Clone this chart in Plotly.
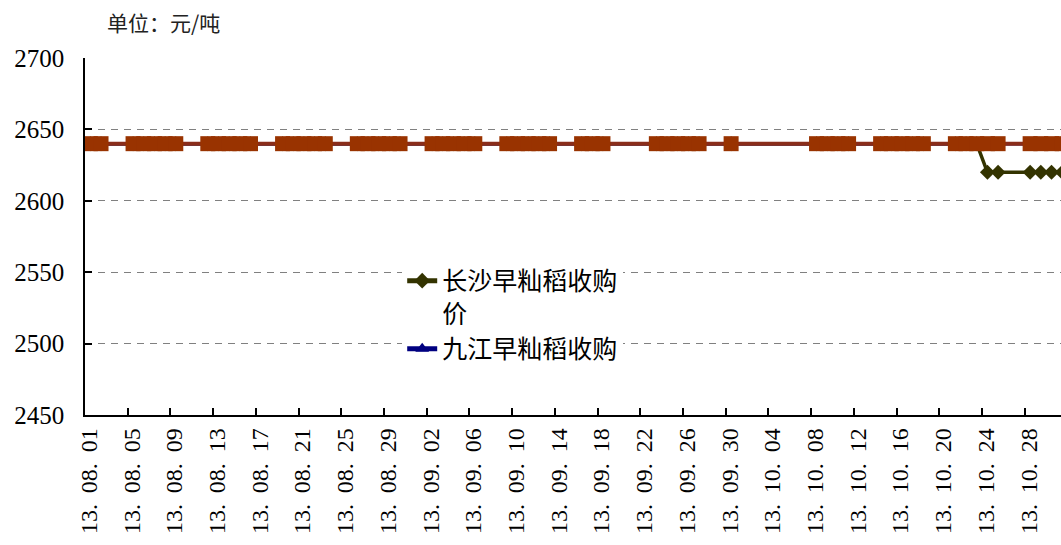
import pandas as pd
import plotly.graph_objects as go

# Trading days, Aug-Oct 2013 (weekends, Mid-Autumn and National Day holidays closed)
trade_dates = [
    "2013-08-01", "2013-08-02",
    "2013-08-05", "2013-08-06", "2013-08-07", "2013-08-08", "2013-08-09",
    "2013-08-12", "2013-08-13", "2013-08-14", "2013-08-15", "2013-08-16",
    "2013-08-19", "2013-08-20", "2013-08-21", "2013-08-22", "2013-08-23",
    "2013-08-26", "2013-08-27", "2013-08-28", "2013-08-29", "2013-08-30",
    "2013-09-02", "2013-09-03", "2013-09-04", "2013-09-05", "2013-09-06",
    "2013-09-09", "2013-09-10", "2013-09-11", "2013-09-12", "2013-09-13",
    "2013-09-16", "2013-09-17", "2013-09-18",
    "2013-09-23", "2013-09-24", "2013-09-25", "2013-09-26", "2013-09-27",
    "2013-09-30",
    "2013-10-08", "2013-10-09", "2013-10-10", "2013-10-11",
    "2013-10-14", "2013-10-15", "2013-10-16", "2013-10-17", "2013-10-18",
    "2013-10-21", "2013-10-22", "2013-10-23", "2013-10-24", "2013-10-25",
    "2013-10-28", "2013-10-29", "2013-10-30", "2013-10-31",
]

# Purchase prices, yuan per tonne
changsha_price = [
    2640, 2640,
    2640, 2640, 2640, 2640, 2640,
    2640, 2640, 2640, 2640, 2640,
    2640, 2640, 2640, 2640, 2640,
    2640, 2640, 2640, 2640, 2640,
    2640, 2640, 2640, 2640, 2640,
    2640, 2640, 2640, 2640, 2640,
    2640, 2640, 2640,
    2640, 2640, 2640, 2640, 2640,
    2640,
    2640, 2640, 2640, 2640,
    2640, 2640, 2640, 2640, 2640,
    2640, 2640, 2640, 2620, 2620,
    2620, 2620, 2620, 2620,
]
jiujiang_price = [
    2640, 2640,
    2640, 2640, 2640, 2640, 2640,
    2640, 2640, 2640, 2640, 2640,
    2640, 2640, 2640, 2640, 2640,
    2640, 2640, 2640, 2640, 2640,
    2640, 2640, 2640, 2640, 2640,
    2640, 2640, 2640, 2640, 2640,
    2640, 2640, 2640,
    2640, 2640, 2640, 2640, 2640,
    2640,
    2640, 2640, 2640, 2640,
    2640, 2640, 2640, 2640, 2640,
    2640, 2640, 2640, 2640, 2640,
    2640, 2640, 2640, 2640,
]
third_price = [
    2640, 2640,
    2640, 2640, 2640, 2640, 2640,
    2640, 2640, 2640, 2640, 2640,
    2640, 2640, 2640, 2640, 2640,
    2640, 2640, 2640, 2640, 2640,
    2640, 2640, 2640, 2640, 2640,
    2640, 2640, 2640, 2640, 2640,
    2640, 2640, 2640,
    2640, 2640, 2640, 2640, 2640,
    2640,
    2640, 2640, 2640, 2640,
    2640, 2640, 2640, 2640, 2640,
    2640, 2640, 2640, 2640, 2640,
    2640, 2640, 2640, 2640,
]

series_names = ["长沙早籼稻收购<br>价", "九江早籼稻收购", "其他早籼稻收购价"]
y_ticks = [2450, 2500, 2550, 2600, 2650, 2700]
x_ticks = pd.date_range("2013-08-01", "2013-10-31", freq="4D")
x_tick_labels = [f"{d:%y}. \u2009{d:%m}. \u2009{d:%d}" for d in x_ticks]

SERIF = "Liberation Serif, Times New Roman, DejaVu Serif, serif"
CJK = "Noto Sans CJK SC"

# Points sit in the middle of each day slot
x_pos = pd.to_datetime(trade_dates) + pd.Timedelta(hours=12)

fig = go.Figure()
fig.add_trace(go.Scatter(
    x=x_pos, y=changsha_price, name=series_names[0], mode="lines+markers",
    line=dict(color="#333300", width=3.5),
    marker=dict(symbol="diamond", size=11.5, color="#333300"),
))
fig.add_trace(go.Scatter(
    x=x_pos, y=jiujiang_price, name=series_names[1], mode="lines+markers",
    line=dict(color="#000080", width=3.5),
    marker=dict(symbol="triangle-up", size=12, color="#000080"),
))
fig.add_trace(go.Scatter(
    x=x_pos, y=third_price, name=series_names[2], mode="lines+markers",
    showlegend=False,
    line=dict(color="#8a2d1a", width=4),
    marker=dict(symbol="square", size=15, color="#993300"),
))

fig.update_layout(
    width=1061, height=545,
    margin=dict(l=85, r=0, t=58, b=130),
    paper_bgcolor="white", plot_bgcolor="white",
    font=dict(family=SERIF, color="black"),
    legend=dict(
        x=0.325, y=0.44, xanchor="left", yanchor="top",
        bgcolor="white", borderwidth=0, valign="top",
        font=dict(family=CJK, size=25, color="black"),
        itemsizing="constant", tracegroupgap=0,
    ),
    annotations=[dict(
        text="单位：元/吨", xref="paper", yref="paper",
        x=0.02, y=1.10, xanchor="left", yanchor="middle", showarrow=False,
        font=dict(family=CJK, size=21, color="#222222"),
    )],
)

fig.update_xaxes(
    type="date", automargin=False,
    range=["2013-08-01", "2013-10-31 09:22"],
    tickvals=x_ticks, ticktext=x_tick_labels, tickangle=-90,
    tickfont=dict(family=SERIF, size=24, color="black"),
    ticks="inside", ticklen=7, tickcolor="black", tickwidth=1.5,
    ticklabelstandoff=2, ticklabelshift=4,
    showline=True, linecolor="black", linewidth=1.5,
    showgrid=False, zeroline=False,
)
fig.update_yaxes(
    automargin=False,
    range=[2450, 2700], tickvals=y_ticks,
    tickfont=dict(family=SERIF, size=25, color="black"),
    ticks="inside", ticklen=7, tickcolor="black", tickwidth=1.5,
    ticklabelstandoff=14,
    showline=True, linecolor="black", linewidth=1.5,
    showgrid=True, gridcolor="#808080", gridwidth=1.3, griddash="7px,6px",
    zeroline=False,
)

fig.write_html("out.html")
